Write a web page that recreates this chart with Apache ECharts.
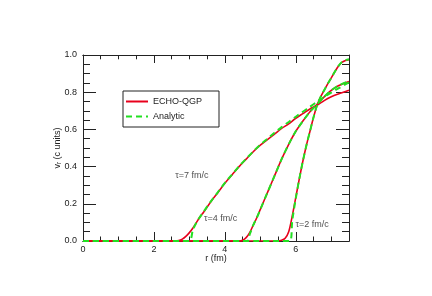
<!DOCTYPE html>
<html>
<head>
<meta charset="utf-8">
<script src="https://cdn.jsdelivr.net/npm/echarts@6/dist/echarts.min.js"></script>
<style>html,body{margin:0;padding:0;background:#fff;}#c{width:432px;height:296px;}</style>
</head>
<body>
<div id="c"></div>
<script>
// ---- data ----
const xTicks = [0, 2, 4, 6];
const yTicks = [0, 0.2, 0.4, 0.6, 0.8, 1.0];

const r_t2_echo = [0, 5.5, 5.6, 5.7, 5.8, 5.9, 6.0, 6.1, 6.2, 6.3, 6.4, 6.5, 6.6, 6.7, 6.8, 6.9, 7.0, 7.1, 7.2, 7.3, 7.4, 7.5];
const v_t2_echo = [0, 0, 0.004, 0.015, 0.05, 0.135, 0.235, 0.335, 0.43, 0.515, 0.59, 0.665, 0.73, 0.775, 0.81, 0.845, 0.877, 0.91, 0.94, 0.96, 0.97, 0.975];
const r_t2_anal = [0, 5.83, 5.9, 6.0, 6.1, 6.2, 6.3, 6.4, 6.5, 6.6, 6.7, 6.8, 6.9, 7.0, 7.1, 7.2, 7.3, 7.4, 7.5];
const v_t2_anal = [0, 0, 0.11, 0.23, 0.335, 0.43, 0.515, 0.59, 0.665, 0.73, 0.775, 0.81, 0.845, 0.877, 0.91, 0.94, 0.962, 0.972, 0.977];

const r_t4_echo = [0, 4.4, 4.5, 4.6, 4.7, 4.8, 4.9, 5.0, 5.2, 5.4, 5.6, 5.8, 6.0, 6.2, 6.4, 6.6, 6.8, 7.0, 7.2, 7.5];
const v_t4_echo = [0, 0, 0.004, 0.018, 0.045, 0.085, 0.125, 0.17, 0.26, 0.35, 0.44, 0.52, 0.59, 0.645, 0.695, 0.735, 0.775, 0.81, 0.835, 0.858];
const r_t4_anal = [0, 4.63, 4.7, 4.8, 4.9, 5.0, 5.2, 5.4, 5.6, 5.8, 6.0, 6.2, 6.4, 6.6, 6.8, 7.0, 7.2, 7.5];
const v_t4_anal = [0, 0, 0.035, 0.085, 0.125, 0.17, 0.26, 0.35, 0.44, 0.52, 0.59, 0.645, 0.695, 0.735, 0.775, 0.81, 0.835, 0.86];

const r_t7_echo = [0, 2.6, 2.7, 2.8, 2.9, 3.0, 3.1, 3.2, 3.3, 3.4, 3.6, 3.8, 4.0, 4.2, 4.4, 4.6, 4.8, 5.0, 5.2, 5.4, 5.6, 5.8, 6.0, 6.2, 6.4, 6.6, 6.8, 7.0, 7.2, 7.5];
const v_t7_echo = [0, 0, 0.002, 0.01, 0.025, 0.045, 0.07, 0.1, 0.13, 0.155, 0.21, 0.26, 0.31, 0.355, 0.4, 0.44, 0.48, 0.515, 0.545, 0.575, 0.605, 0.63, 0.66, 0.685, 0.71, 0.73, 0.755, 0.775, 0.79, 0.81];
const r_t7_anal = [0, 2.98, 3.1, 3.2, 3.3, 3.4, 3.6, 3.8, 4.0, 4.2, 4.4, 4.6, 4.8, 5.0, 5.2, 5.4, 5.6, 5.8, 6.0, 6.2, 6.4, 6.6, 6.8, 7.0, 7.2, 7.5];
const v_t7_anal = [0, 0, 0.06, 0.1, 0.13, 0.157, 0.212, 0.262, 0.312, 0.357, 0.402, 0.442, 0.482, 0.518, 0.55, 0.582, 0.612, 0.64, 0.668, 0.695, 0.722, 0.748, 0.774, 0.798, 0.82, 0.853];

const annotText = ['τ=7 fm/c', 'τ=4 fm/c', 'τ=2 fm/c'];
const annotR = [3.07, 3.88, 6.46];
const annotV = [0.354, 0.12, 0.09];

// ---- chart ----
const zip = (a, b) => a.map((x, i) => [x, b[i]]);
const RED = '#e8001c', GREEN = '#22e022', INK = '#222';
const FS = 9;
const FONT = 'Liberation Sans, Arial, sans-serif';

function xAx(pos, interval, len, labels) {
  return {
    type: 'value', position: pos, min: 0, max: 7.5, interval: interval,
    axisLine: { show: true, onZero: false, lineStyle: { color: INK, width: 1 } },
    axisTick: { show: true, inside: true, length: len, lineStyle: { color: INK, width: 1 } },
    axisLabel: labels ? { show: true, margin: 4, fontSize: FS, fontFamily: FONT, color: INK,
      formatter: v => xTicks.includes(v) ? String(v) : '' } : { show: false },
    splitLine: { show: false }
  };
}
function yAx(pos, labels) {
  return {
    type: 'value', position: pos, min: 0, max: 1, interval: 0.2,
    axisLine: { show: true, onZero: false, lineStyle: { color: INK, width: 1 } },
    axisTick: { show: true, inside: true, length: 13, lineStyle: { color: INK, width: 1 } },
    minorTick: { show: true, splitNumber: 4, length: 7, lineStyle: { color: INK, width: 1 } },
    axisLabel: labels ? { show: true, margin: 6, fontSize: FS, fontFamily: FONT, color: INK,
      formatter: v => yTicks.some(t => Math.abs(t - v) < 1e-9) ? v.toFixed(1) : '' } : { show: false },
    splitLine: { show: false }, minorSplitLine: { show: false }
  };
}

const xBottom = xAx('bottom', 2, 9, true);
xBottom.name = 'r (fm)';
xBottom.nameLocation = 'middle';
xBottom.nameGap = 13;
xBottom.nameMoveOverlap = false;
xBottom.nameTextStyle = { fontSize: FS, fontFamily: FONT, color: INK, verticalAlign: 'top' };

const yLeft = yAx('left', true);
yLeft.name = '{v|v}{s|r}{v| (c units)}';
yLeft.nameLocation = 'middle';
yLeft.nameGap = 20;
yLeft.nameMoveOverlap = false;
yLeft.nameTextStyle = { fontFamily: FONT, color: INK, rich: {
  v: { fontSize: FS, fontFamily: FONT, color: INK },
  s: { fontSize: 6.5, fontFamily: FONT, color: INK, verticalAlign: 'bottom', padding: [3, 0, 0, 0] }
} };

function lineSeries(name, r, v, color, dashed) {
  return {
    type: 'line', name: name, xAxisIndex: 0, yAxisIndex: 0,
    data: zip(r, v), showSymbol: false, symbol: 'none', smooth: 0.3,
    z: dashed ? 4 : 3, animation: false,
    lineStyle: { color: color, width: dashed ? 2 : 1.6, type: dashed ? [6, 4] : 'solid' },
    itemStyle: { color: color }
  };
}

const option = {
  animation: false,
  grid: { left: 83, right: 83, top: 55, bottom: 55, containLabel: false },
  xAxis: [xBottom, xAx('bottom', 0.5, 4.5, false), xAx('top', 2, 8, false), xAx('top', 0.5, 4.3, false)],
  yAxis: [yLeft, yAx('right', false)],
  legend: {
    data: ['ECHO-QGP', 'Analytic'], orient: 'vertical', left: 123, top: 91,
    padding: [6, 17, 6, 2], itemWidth: 22, itemHeight: 10, itemGap: 6,
    borderColor: INK, borderWidth: 1, borderRadius: 0,
    itemStyle: { opacity: 0 },
    textStyle: { fontSize: FS, fontFamily: FONT, color: INK },
    selectedMode: false
  },
  series: [
    lineSeries('ECHO-QGP', r_t7_echo, v_t7_echo, RED, false),
    lineSeries('ECHO-QGP', r_t4_echo, v_t4_echo, RED, false),
    lineSeries('ECHO-QGP', r_t2_echo, v_t2_echo, RED, false),
    lineSeries('Analytic', r_t7_anal, v_t7_anal, GREEN, true),
    lineSeries('Analytic', r_t4_anal, v_t4_anal, GREEN, true),
    lineSeries('Analytic', r_t2_anal, v_t2_anal, GREEN, true),
    {
      type: 'scatter', name: 'annot', symbolSize: 0, silent: true, z: 5,
      data: annotText.map((t, i) => ({ value: [annotR[i], annotV[i]], name: t })),
      label: { show: true, position: 'inside', formatter: p => p.name,
        fontSize: FS, fontFamily: FONT, color: INK }
    }
  ]
};
const chart = echarts.init(document.getElementById('c'), null, { renderer: 'canvas' });
chart.setOption(option);
</script>
</body>
</html>
